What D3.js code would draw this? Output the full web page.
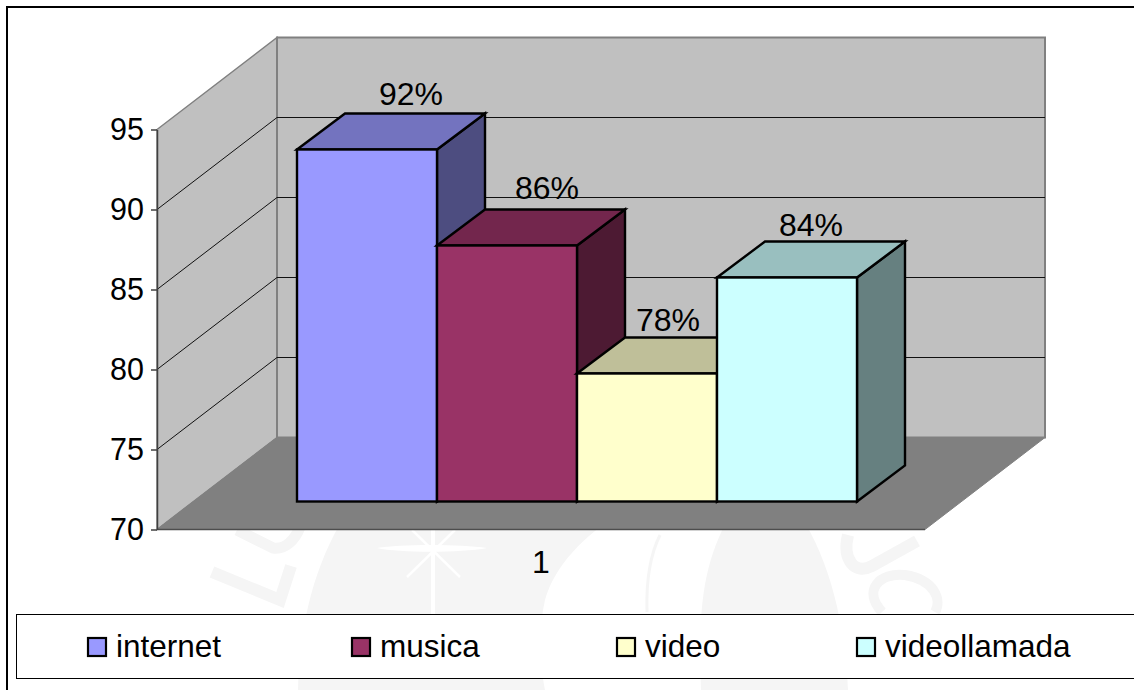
<!DOCTYPE html>
<html>
<head>
<meta charset="utf-8">
<script src="https://cdn.jsdelivr.net/npm/d3@7/dist/d3.min.js"></script>
<style>
html,body{margin:0;padding:0;background:#fff;overflow:hidden}
text{font-family:"Liberation Sans",Arial,sans-serif;fill:#000}
</style>
</head>
<body>
<svg id="chart" width="1134" height="690"></svg>
<script>
const seriesNames = ["internet", "musica", "video", "videollamada"];
const seriesValues = [92, 86, 78, 84];
const valueLabels = ["92%", "86%", "78%", "84%"];
const categoryLabels = ["1"];
const valueTicks = [70, 75, 80, 85, 90, 95];
const frontColors = ["#9999ff", "#993366", "#ffffcc", "#ccffff"];
const topColors = ["#7373bf", "#73264d", "#bfbf99", "#99bfbf"];
const sideColors = ["#4d4d80", "#4d1a33", "#808066", "#668080"];
const labelShiftX = [44, 40, 21, 24];
const labelShiftY = [9, 11, 7, 6];
const legendSwatchX = [88, 352, 617, 857];

const svg = d3.select("#chart");
const axisFont = 30.5, labelFont = 32, legendFont = 31.5;

// Scales
const y = d3.scaleLinear().domain([70, 95]).range([529.5, 129.5]);
const xBars = d3.scaleBand().domain(seriesNames).range([297, 857]);
const wall = {x: 157, dx: 120, dy: 92, right: 925};
const barLift = 28, barDx = 48, barDy = 36;
const poly = pts => "M" + pts.map(p => p.join(",")).join("L") + "Z";

// Faint watermark behind the chart
const wmColor = "#f5f5f5";
const wm = svg.append("g").attr("fill", wmColor);
wm.append("path").attr("d", "M298,690C300,620 315,565 345,515L618,515C585,535 555,565 545,600C538,630 540,665 545,690Z");
wm.append("path").attr("d", "M701,690C698,610 702,565 730,515L800,515C830,560 845,625 848,690Z");
const wmStroke = svg.append("g").attr("fill", "none").attr("stroke", wmColor);
wmStroke.append("path").attr("stroke-width", 12).attr("d", "M212,572L280,600L291,566");
wmStroke.append("path").attr("stroke-width", 11).attr("d", "M237,530L273,548C285,550 295,540 300,527");
wmStroke.append("path").attr("stroke-width", 12).attr("d", "M917,541L872,566C855,575 842,560 848,535");
wmStroke.append("path").attr("stroke-width", 10).attr("d", "M882,612C862,590 880,572 905,575C935,580 942,600 935,612");
wmStroke.append("path").attr("stroke-width", 3).attr("d", "M660,535C650,555 646,580 647,612");
wm.append("path").attr("fill", "#fff").attr("d", "M377,548C400,544 460,544 487,548C460,553 400,553 377,548Z");
wmStroke.append("path").attr("stroke", "#fff").attr("stroke-width", 4).attr("d", "M433,530L433,615");
wmStroke.append("path").attr("stroke", "#fff").attr("stroke-width", 2.5).attr("d", "M407,577L455,530M460,577L412,530");

// Walls and floor
const g = svg.append("g");
g.append("path").attr("d", poly([[wall.x, y(70)], [wall.x + wall.dx, y(70) - wall.dy], [wall.x + wall.dx, y(95) - wall.dy], [wall.x, y(95)]]))
  .attr("fill", "#c0c0c0").attr("stroke", "#808080").attr("stroke-width", 1.5);
g.append("rect").attr("x", wall.x + wall.dx).attr("y", y(95) - wall.dy)
  .attr("width", wall.right - wall.x).attr("height", y(70) - y(95))
  .attr("fill", "#c0c0c0").attr("stroke", "#808080").attr("stroke-width", 2);
g.append("path").attr("d", poly([[wall.x, y(70)], [wall.right, y(70)], [wall.right + wall.dx, y(70) - wall.dy], [wall.x + wall.dx, y(70) - wall.dy]]))
  .attr("fill", "#808080").attr("stroke", "#808080").attr("stroke-width", 1);
g.append("line").attr("x1", wall.x).attr("x2", wall.right).attr("y1", y(70)).attr("y2", y(70))
  .attr("stroke", "#4d4d4d").attr("stroke-width", 1.5);

// Gridlines across side wall and back wall
g.selectAll("path.grid").data(valueTicks.filter(t => t > 70 && t < 95)).join("path")
  .attr("class", "grid").attr("fill", "none").attr("stroke", "#111").attr("stroke-width", 1)
  .attr("d", t => `M${wall.x},${y(t)}L${wall.x + wall.dx},${y(t) - wall.dy}L${wall.right + wall.dx},${y(t) - wall.dy}`);

// Value axis
const axis = d3.axisLeft(y).tickValues(valueTicks).tickSize(6).tickPadding(7).tickSizeOuter(0);
const ax = svg.append("g").attr("transform", `translate(${wall.x},0)`).call(axis);
ax.select(".domain").attr("stroke", "#404040").attr("stroke-width", 1.5);
ax.selectAll(".tick line").attr("stroke", "#404040").attr("stroke-width", 1.5);
ax.selectAll("text").attr("font-size", axisFont).attr("font-family", '"Liberation Sans",Arial,sans-serif').attr("fill", "#000");

// Bars
const barY = v => y(v) - barLift;
const barBase = barY(70);
const bars = svg.append("g").attr("stroke", "#000").attr("stroke-width", 2.4).attr("stroke-linejoin", "miter");
seriesNames.forEach((name, i) => {
  const v = seriesValues[i], x0 = xBars(name), x1 = x0 + xBars.bandwidth(), t = barY(v);
  bars.append("path").attr("fill", sideColors[i])
    .attr("d", poly([[x1, t], [x1 + barDx, t - barDy], [x1 + barDx, barBase - barDy], [x1, barBase]]));
  bars.append("path").attr("fill", topColors[i])
    .attr("d", poly([[x0, t], [x0 + barDx, t - barDy], [x1 + barDx, t - barDy], [x1, t]]));
  bars.append("rect").attr("fill", frontColors[i])
    .attr("x", x0).attr("y", t).attr("width", x1 - x0).attr("height", barBase - t);
});

// Value labels
svg.append("g").selectAll("text").data(seriesNames).join("text")
  .attr("text-anchor", "middle").attr("font-size", labelFont)
  .attr("x", (d, i) => xBars(d) + xBars.bandwidth() / 2 + labelShiftX[i])
  .attr("y", (d, i) => barY(seriesValues[i]) - barDy - labelShiftY[i])
  .text((d, i) => valueLabels[i]);

// Category label
svg.append("text").attr("x", 541).attr("y", 573).attr("text-anchor", "middle")
  .attr("font-size", labelFont).text(categoryLabels[0]);

// Legend
svg.append("rect").attr("x", 16.5).attr("y", 614.5).attr("width", 1130).attr("height", 64)
  .attr("fill", "#fff").attr("stroke", "#000").attr("stroke-width", 1);
const leg = svg.append("g").selectAll("g").data(seriesNames).join("g")
  .attr("transform", (d, i) => `translate(${legendSwatchX[i]},0)`);
leg.append("rect").attr("x", 0).attr("y", 638).attr("width", 18).attr("height", 18)
  .attr("fill", (d, i) => frontColors[i]).attr("stroke", "#000").attr("stroke-width", 2.2);
leg.append("text").attr("x", 28).attr("y", 657).attr("font-size", legendFont).text(d => d);

// Outer frame: only top and left edges are in view
svg.append("path").attr("d", "M1134,7H7V690").attr("fill", "none").attr("stroke", "#000").attr("stroke-width", 2);
</script>
</body>
</html>
